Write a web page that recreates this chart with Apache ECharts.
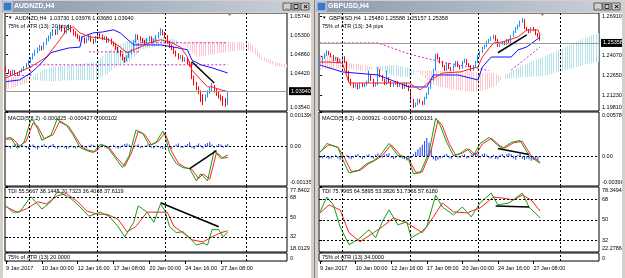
<!DOCTYPE html>
<html>
<head>
<meta charset="UTF-8" />
<title>AUDNZD,H4 / GBPUSD,H4</title>
<style>
html, body { margin: 0; padding: 0; background: #d4d0c8; }
#charts { width: 625px; height: 278px; }
</style>
</head>
<body>
<div id="charts"></div>
<script src="https://cdn.jsdelivr.net/npm/echarts@6/dist/echarts.min.js"></script>
<script>
// bar slots on each chart (data + cloud shifted into the future)
const SLOTS = 126;
const timeLabels = [[0, '9 Jan 2017'], [16, '10 Jan 00:00'], [32, '12 Jan 16:00'], [48, '17 Jan 08:00'], [64, '20 Jan 00:00'], [80, '24 Jan 16:00'], [96, '27 Jan 08:00']];

// ---------------- AUDNZD,H4 ----------------
// [open, close, low, high]
const audCandles = [
  [1.0452,1.0449,1.0445,1.0456],[1.0449,1.0444,1.0440,1.0451],[1.0444,1.0440,1.0436,1.0447],[1.0440,1.0446,1.0438,1.0450],[1.0446,1.0442,1.0439,1.0449],
  [1.0442,1.0439,1.0435,1.0444],[1.0439,1.0445,1.0437,1.0448],[1.0445,1.0450,1.0443,1.0453],[1.0450,1.0454,1.0447,1.0458],[1.0454,1.0462,1.0452,1.0465],
  [1.0462,1.0468,1.0459,1.0472],[1.0468,1.0476,1.0465,1.0479],[1.0476,1.0484,1.0473,1.0488],[1.0484,1.0492,1.0481,1.0496],[1.0492,1.0496,1.0488,1.0501],
  [1.0496,1.0502,1.0493,1.0507],[1.0502,1.0498,1.0494,1.0505],[1.0498,1.0510,1.0496,1.0514],[1.0510,1.0519,1.0507,1.0523],[1.0519,1.0524,1.0515,1.0529],
  [1.0524,1.0532,1.0521,1.0537],[1.0532,1.0539,1.0528,1.0544],[1.0539,1.0534,1.0530,1.0543],[1.0534,1.0546,1.0531,1.0551],[1.0546,1.0549,1.0541,1.0556],
  [1.0549,1.0542,1.0538,1.0553],[1.0542,1.0537,1.0532,1.0546],[1.0537,1.0544,1.0534,1.0549],[1.0544,1.0550,1.0540,1.0555],[1.0550,1.0540,1.0536,1.0553],
  [1.0540,1.0534,1.0529,1.0544],[1.0534,1.0530,1.0526,1.0539],[1.0530,1.0526,1.0521,1.0533],[1.0526,1.0519,1.0515,1.0529],[1.0519,1.0522,1.0514,1.0527],
  [1.0522,1.0514,1.0510,1.0525],[1.0514,1.0520,1.0511,1.0524],[1.0520,1.0526,1.0517,1.0530],[1.0526,1.0518,1.0514,1.0529],[1.0518,1.0514,1.0509,1.0521],
  [1.0514,1.0524,1.0512,1.0528],[1.0524,1.0530,1.0521,1.0535],[1.0530,1.0528,1.0523,1.0534],[1.0528,1.0522,1.0518,1.0531],[1.0522,1.0524,1.0518,1.0528],
  [1.0524,1.0516,1.0512,1.0527],[1.0516,1.0519,1.0512,1.0523],[1.0519,1.0512,1.0508,1.0522],[1.0512,1.0509,1.0504,1.0515],[1.0509,1.0500,1.0496,1.0512],
  [1.0500,1.0492,1.0488,1.0503],[1.0492,1.0484,1.0480,1.0495],[1.0484,1.0476,1.0471,1.0487],[1.0476,1.0472,1.0466,1.0479],[1.0472,1.0480,1.0469,1.0483],
  [1.0480,1.0488,1.0477,1.0492],[1.0488,1.0494,1.0485,1.0498],[1.0494,1.0514,1.0492,1.0518],[1.0514,1.0528,1.0511,1.0532],[1.0528,1.0524,1.0519,1.0531],
  [1.0524,1.0520,1.0516,1.0527],[1.0520,1.0516,1.0511,1.0523],[1.0516,1.0512,1.0508,1.0519],[1.0512,1.0519,1.0510,1.0523],[1.0519,1.0524,1.0516,1.0528],
  [1.0524,1.0514,1.0510,1.0527],[1.0514,1.0518,1.0511,1.0522],[1.0518,1.0526,1.0515,1.0530],[1.0526,1.0532,1.0523,1.0537],[1.0532,1.0540,1.0529,1.0546],
  [1.0540,1.0534,1.0529,1.0543],[1.0534,1.0528,1.0523,1.0537],[1.0528,1.0514,1.0510,1.0530],[1.0514,1.0504,1.0500,1.0517],[1.0504,1.0500,1.0495,1.0508],
  [1.0500,1.0490,1.0486,1.0503],[1.0490,1.0484,1.0480,1.0494],[1.0484,1.0478,1.0473,1.0488],[1.0478,1.0480,1.0474,1.0484],[1.0480,1.0472,1.0468,1.0483],
  [1.0472,1.0474,1.0468,1.0478],[1.0474,1.0466,1.0462,1.0477],[1.0466,1.0462,1.0457,1.0469],[1.0462,1.0432,1.0428,1.0468],[1.0432,1.0418,1.0413,1.0436],
  [1.0418,1.0408,1.0402,1.0421],[1.0408,1.0399,1.0393,1.0411],[1.0399,1.0390,1.0375,1.0402],[1.0390,1.0382,1.0368,1.0393],[1.0382,1.0388,1.0376,1.0392],
  [1.0388,1.0398,1.0385,1.0402],[1.0398,1.0404,1.0394,1.0409],[1.0404,1.0410,1.0400,1.0419],[1.0410,1.0402,1.0397,1.0414],[1.0402,1.0394,1.0389,1.0406],
  [1.0394,1.0388,1.0383,1.0398],[1.0388,1.0384,1.0378,1.0392],[1.0384,1.0380,1.0366,1.0389],[1.0380,1.0373,1.0364,1.0384],[1.0373,1.0394,1.0368,1.03976]
];
const audTenkan = [[0,1.0431],[11,1.0456],[18,1.0479],[24,1.0519],[27,1.0542],[30,1.0549],[33,1.0535],[37,1.0526],[42,1.0523],[46,1.0519],[51,1.0502],[54,1.0489],[57,1.0496],[60,1.0502],[64,1.0512],[69,1.0519],[73,1.0514],[78,1.0502],[81,1.0479],[83,1.0449],[87,1.0426],[90,1.0410],[92,1.0410],[96,1.0403],[99,1.0399]];
const audKijun = [[0,1.0422],[6,1.0426],[11,1.0442],[14,1.0456],[17,1.0472],[20,1.0489],[25,1.0496],[28,1.0500],[33,1.0502],[34,1.0526],[39,1.0535],[43,1.0537],[48,1.0542],[51,1.0535],[57,1.0507],[69,1.0507],[75,1.0502],[81,1.0496],[83,1.0472],[87,1.0461],[92,1.0454],[99,1.0442]];
const audLevelA = [[0,1.0436],[11,1.0436],[11,1.0461],[99,1.0461]];
const audLevelB = [[37,1.0491],[59,1.0491],[59,1.0512],[99,1.0512]];
// [bar, senkou A, senkou B]
const audCloud = [[0,1.0403,1.0433],[10,1.0420,1.0430],[13,1.0440,1.0426],[20,1.0456,1.0422],[30,1.0461,1.0426],[40,1.0468,1.0426],[45,1.0490,1.0440],[50,1.0507,1.0461],[55,1.0519,1.0468],[60,1.0523,1.0496],[70,1.0525,1.0507],[76,1.0519,1.0509],[80,1.0505,1.0512],[85,1.0479,1.0514],[95,1.0488,1.0514],[105,1.0496,1.0514],[109,1.0494,1.0512],[114,1.0472,1.0480],[120,1.0459,1.0468],[125,1.0454,1.0462]];
const audTrendPrice = [[83,1.0468],[93,1.0419]];
const audMacdMain = [[0,0.00032],[2,0.00036],[5,-0.00008],[8,0.00016],[11,0.00103],[12,0.00103],[14,0.00071],[16,0.00024],[20,0.00044],[23,0.00111],[24,0.00095],[27,0.00083],[30,0.00044],[33,-0.00004],[36,-0.00016],[39,-0.00024],[42,0.00008],[45,0],[48,-0.00036],[52,-0.00083],[55,-0.00036],[58,0.00064],[61,0.00052],[64,0.00004],[67,0.00016],[70,0.00060],[71,0.00044],[73,-0.00024],[76,-0.00067],[79,-0.00083],[82,-0.00087],[85,-0.00135],[87,-0.00107],[90,-0.00135],[93,-0.00016],[96,-0.00048],[99,-0.00033]];
const audMacdSignal = [[0,0.00028],[3,0.00030],[6,0.00002],[9,0.00020],[12,0.00092],[14,0.00080],[17,0.00030],[21,0.00046],[24,0.00100],[28,0.00078],[31,0.00038],[34,-0.00004],[37,-0.00016],[40,-0.00020],[43,0.00006],[46,-0.00004],[49,-0.00040],[53,-0.00078],[56,-0.00026],[59,0.00058],[62,0.00046],[65,0.00006],[68,0.00020],[71,0.00054],[74,-0.00020],[77,-0.00066],[80,-0.00082],[83,-0.00090],[86,-0.00126],[88,-0.00108],[91,-0.00128],[94,-0.00024],[97,-0.00046],[99,-0.00043]];
const audMacdHist = [
  0.00005,-0.00003,-0.00008,0.00004,0.00010,0.00012,-0.00004,0.00006,0.00003,-0.00006,
  -0.00010,0.00004,0.00008,-0.00006,-0.00012,-0.00004,0.00005,0.00009,-0.00003,-0.00008,
  0.00006,0.00010,-0.00005,-0.00009,-0.00004,0.00003,-0.00006,-0.00010,-0.00007,0.00004,
  -0.00005,-0.00008,-0.00004,0.00003,0.00006,-0.00004,-0.00007,0.00004,0.00008,0.00005,
  -0.00003,-0.00006,0.00004,0.00007,-0.00004,-0.00008,-0.00005,0.00003,0.00006,-0.00004,
  -0.00009,-0.00006,0.00005,0.00010,0.00012,0.00008,-0.00004,-0.00008,0.00005,0.00009,
  -0.00006,-0.00004,0.00003,0.00007,0.00010,-0.00005,-0.00008,0.00004,-0.00003,-0.00007,
  -0.00010,-0.00006,0.00004,-0.00005,-0.00009,0.00003,0.00008,0.00012,-0.00004,-0.00006,
  0.00005,0.00010,0.00016,-0.00006,-0.00010,0.00005,0.00012,0.00006,-0.00008,0.00010,
  0.00014,0.00018,0.00008,-0.00006,0.00004,0.00010,0.00008,-0.00005,0.00006,0.00010
];
const audTrendMacd = [[82,-0.00087],[94,-0.00016]];
const audTdiPrice = [[0,60.4],[3,54.7],[6,54.7],[11,68.9],[14,62.3],[16,57.6],[20,64.2],[23,73.7],[25,71.8],[29,67.1],[33,59.5],[37,50.9],[42,54.7],[46,50.9],[50,41.5],[53,32.0],[57,45.3],[59,60.4],[61,57.6],[63,54.7],[66,45.3],[69,62.3],[71,55.7],[73,41.5],[76,35.8],[79,36.7],[82,31.1],[85,24.4],[88,26.3],[90,24.4],[92,38.6],[95,38.6],[97,32.0],[99,36.4]];
const audTdiSignal = [[0,59.5],[5,54.7],[9,57.6],[14,64.2],[18,62.3],[23,69.9],[27,71.8],[32,64.2],[36,55.7],[41,52.8],[45,52.8],[50,48.1],[54,36.7],[58,41.5],[63,54.7],[67,54.7],[72,54.7],[75,41.5],[79,35.8],[83,29.2],[88,27.3],[92,32.0],[96,35.8],[99,37.6]];
const audTrendTdi = [[69,63.3],[95,41.2]];
const audSeparators = [10.5, 40.5, 71, 107.5];
const audClose = 1.0394;
const audPriceTicks = [[1.0574,'1.05740'],[1.0530,'1.05300'],[1.0486,'1.04860'],[1.0442,'1.04420'],[1.0354,'1.03540']];
const audMacdTicks = [[0.00135,'0.001396'],[0,'0.00'],[-0.00155,'-0.001356']];
const audTdiTicks = [[77.8402,'77.8402'],[68,'68'],[50,'50'],[32,'32'],[18.0129,'18.0129']];

// ---------------- GBPUSD,H4 ----------------
const gbpCandles = [
  [1.2340,1.2355,1.2330,1.2368],[1.2355,1.2391,1.2350,1.2402],[1.2391,1.2413,1.2384,1.2425],[1.2413,1.2434,1.2405,1.2448],[1.2434,1.2420,1.2410,1.2442],
  [1.2420,1.2406,1.2396,1.2428],[1.2406,1.2377,1.2368,1.2412],[1.2377,1.2391,1.2370,1.2400],[1.2391,1.2362,1.2352,1.2396],[1.2362,1.2377,1.2355,1.2386],
  [1.2377,1.2398,1.2370,1.2410],[1.2398,1.2362,1.2354,1.2404],[1.2362,1.2290,1.2280,1.2368],[1.2290,1.2232,1.2220,1.2298],[1.2232,1.2203,1.2190,1.2240],
  [1.2203,1.2188,1.2175,1.2212],[1.2188,1.2196,1.2178,1.2206],[1.2196,1.2174,1.2164,1.2204],[1.2174,1.2203,1.2168,1.2212],[1.2203,1.2188,1.2180,1.2210],
  [1.2188,1.2196,1.2180,1.2205],[1.2196,1.2217,1.2190,1.2226],[1.2217,1.2261,1.2210,1.2300],[1.2261,1.2232,1.2224,1.2268],[1.2232,1.2188,1.2180,1.2240],
  [1.2188,1.2203,1.2182,1.2212],[1.2203,1.2304,1.2196,1.2325],[1.2304,1.2261,1.2252,1.2310],[1.2261,1.2232,1.2225,1.2268],[1.2232,1.2203,1.2195,1.2240],
  [1.2203,1.2246,1.2198,1.2300],[1.2246,1.2217,1.2210,1.2252],[1.2217,1.2188,1.2180,1.2224],[1.2188,1.2203,1.2182,1.2212],[1.2203,1.2217,1.2196,1.2226],
  [1.2217,1.2188,1.2180,1.2224],[1.2188,1.2203,1.2182,1.2210],[1.2203,1.2174,1.2166,1.2208],[1.2174,1.2203,1.2168,1.2212],[1.2203,1.2188,1.2180,1.2210],
  [1.2188,1.2159,1.2150,1.2194],[1.2159,1.2087,1.2078,1.2164],[1.2087,1.2044,1.2030,1.2094],[1.2044,1.2058,1.2036,1.2068],[1.2058,1.2087,1.2050,1.2096],
  [1.2087,1.2072,1.2062,1.2094],[1.2072,1.2058,1.2048,1.2080],[1.2058,1.2101,1.2052,1.2110],[1.2101,1.2130,1.2094,1.2140],[1.2130,1.2174,1.2124,1.2182],
  [1.2174,1.2232,1.2168,1.2240],[1.2232,1.2304,1.2226,1.2312],[1.2304,1.2406,1.2298,1.2420],[1.2406,1.2391,1.2380,1.2424],[1.2391,1.2362,1.2352,1.2398],
  [1.2362,1.2333,1.2324,1.2370],[1.2333,1.2304,1.2296,1.2340],[1.2304,1.2348,1.2298,1.2356],[1.2348,1.2319,1.2310,1.2354],[1.2319,1.2304,1.2296,1.2326],
  [1.2304,1.2333,1.2298,1.2340],[1.2333,1.2362,1.2326,1.2370],[1.2362,1.2333,1.2324,1.2368],[1.2333,1.2319,1.2310,1.2340],[1.2319,1.2362,1.2312,1.2370],
  [1.2362,1.2377,1.2354,1.2386],[1.2377,1.2348,1.2340,1.2384],[1.2348,1.2333,1.2324,1.2354],[1.2333,1.2304,1.2296,1.2340],[1.2304,1.2333,1.2298,1.2340],
  [1.2333,1.2362,1.2326,1.2370],[1.2362,1.2406,1.2356,1.2414],[1.2406,1.2434,1.2398,1.2442],[1.2434,1.2463,1.2428,1.2472],[1.2463,1.2478,1.2456,1.2488],
  [1.2478,1.2507,1.2470,1.2516],[1.2507,1.2521,1.2500,1.2530],[1.2521,1.2536,1.2514,1.2546],[1.2536,1.2550,1.2528,1.2560],[1.2550,1.2521,1.2512,1.2556],
  [1.2521,1.2478,1.2470,1.2528],[1.2478,1.2492,1.2470,1.2500],[1.2492,1.2507,1.2486,1.2514],[1.2507,1.2492,1.2484,1.2514],[1.2492,1.2521,1.2486,1.2530],
  [1.2521,1.2507,1.2498,1.2528],[1.2507,1.2550,1.2500,1.2558],[1.2550,1.2579,1.2544,1.2588],[1.2579,1.2608,1.2572,1.2616],[1.2608,1.2623,1.2600,1.2634],
  [1.2623,1.2652,1.2616,1.2662],[1.2652,1.2666,1.2644,1.2680],[1.2666,1.2608,1.2600,1.2672],[1.2608,1.2594,1.2586,1.2616],[1.2594,1.2579,1.2570,1.2602],
  [1.2579,1.2608,1.2572,1.2616],[1.2608,1.2594,1.2586,1.2616],[1.2594,1.2565,1.2556,1.2600],[1.2565,1.2548,1.2540,1.2572],[1.2548,1.25358,1.25157,1.25588]
];
const gbpTenkan = [[0,1.2362],[4,1.2362],[10,1.2355],[13,1.2210],[27,1.2210],[40,1.2210],[45,1.2160],[50,1.2232],[55,1.2282],[63,1.2290],[71,1.2326],[73,1.2398],[78,1.2500],[82,1.2507],[89,1.2543],[93,1.2594],[98,1.2594],[99,1.2557]];
const gbpKijun = [[0,1.2340],[10,1.2290],[26,1.2268],[40,1.2181],[48,1.2181],[51,1.2268],[62,1.2268],[71,1.2232],[73,1.2326],[77,1.2398],[86,1.2398],[89,1.2449],[93,1.2471],[99,1.2543]];
const gbpLevelA = [[0,1.2500],[26,1.2500],[40,1.2420],[55,1.2360],[70,1.2320],[76,1.2300]];
const gbpLevelB = [[86,1.2304],[92,1.2380],[99,1.2471]];
const gbpCloud = [[0,1.2304,1.2413],[8,1.2319,1.2400],[12,1.2319,1.2355],[20,1.2290,1.2340],[26,1.2330,1.2310],[33,1.2340,1.2260],[40,1.2320,1.2250],[44,1.2290,1.2300],[50,1.2200,1.2300],[60,1.2160,1.2300],[70,1.2145,1.2290],[78,1.2181,1.2280],[83,1.2268,1.2240],[90,1.2330,1.2250],[100,1.2400,1.2260],[110,1.2470,1.2300],[118,1.2530,1.2340],[125,1.2572,1.2362]];
const gbpTrendPrice = [[80,1.2429],[93,1.2558]];
const gbpMacdMain = [[0,0.00048],[3,0.00167],[8,0.00114],[10,-0.00032],[13,-0.00218],[17,-0.00191],[21,-0.00098],[24,-0.00058],[27,0.00008],[31,0.00167],[35,0.00008],[39,-0.00019],[40,-0.00058],[42,-0.00231],[45,-0.00218],[49,0.00048],[52,0.00499],[54,0.00406],[57,0.00180],[60,0.00008],[63,0.00035],[66,0.00101],[69,0.00008],[72,0.00167],[76,0.00247],[80,0.00141],[82,0.00101],[86,0.00180],[90,0.00207],[94,0.00008],[99,-0.00092]];
const gbpMacdSignal = [[0,0.00060],[4,0.00150],[8,0.00120],[11,-0.00020],[14,-0.00200],[18,-0.00185],[22,-0.00095],[25,-0.00050],[28,0.00010],[32,0.00150],[36,0.00015],[40,-0.00040],[43,-0.00210],[46,-0.00205],[50,0.00080],[53,0.00470],[55,0.00400],[58,0.00170],[61,0.00015],[64,0.00040],[67,0.00095],[70,0.00015],[73,0.00160],[77,0.00235],[81,0.00135],[83,0.00105],[87,0.00175],[91,0.00195],[95,0.00005],[99,-0.00079]];
const gbpMacdHist = [
  -0.00020,-0.00030,0.00015,-0.00025,-0.00040,-0.00030,-0.00015,0.00020,-0.00030,-0.00045,
  -0.00035,-0.00020,0.00015,-0.00030,-0.00040,-0.00025,0.00020,0.00030,-0.00020,-0.00035,
  -0.00025,0.00015,0.00025,-0.00020,-0.00030,0.00020,0.00035,-0.00015,-0.00025,0.00020,
  0.00030,0.00040,-0.00020,-0.00035,-0.00025,0.00015,-0.00020,-0.00030,-0.00040,-0.00055,
  -0.00035,-0.00025,0.00030,0.00060,0.00090,0.00120,0.00150,0.00200,0.00240,0.00180,
  0.00090,-0.00040,-0.00060,-0.00045,-0.00030,-0.00020,0.00020,0.00030,-0.00025,-0.00035,
  0.00020,0.00030,-0.00020,-0.00025,0.00015,0.00025,-0.00030,-0.00020,0.00020,0.00035,
  0.00045,0.00030,-0.00020,0.00025,0.00035,0.00020,-0.00025,-0.00030,0.00020,-0.00035,
  -0.00040,0.00020,0.00030,-0.00025,0.00030,0.00040,0.00025,-0.00030,-0.00045,0.00020,
  0.00030,-0.00035,-0.00050,-0.00030,-0.00040,-0.00060,-0.00045,-0.00035,-0.00050,-0.00013
];
const gbpTrendMacd = [[80,0.00101],[94,0.00021]];
const gbpTdiPrice = [[0,56.9],[3,69.7],[6,62.9],[9,44.0],[13,28.6],[17,32.9],[22,41.4],[25,34.6],[28,48.3],[31,58.6],[35,45.7],[39,48.3],[41,34.6],[45,38.9],[48,44.0],[52,71.4],[55,61.1],[60,54.3],[64,61.1],[68,52.6],[72,64.6],[77,73.1],[80,62.9],[85,64.6],[91,73.1],[94,61.1],[99,51.7]];
const gbpTdiSignal = [[0,56.0],[4,62.9],[9,58.6],[13,38.9],[18,31.1],[24,38.9],[28,44.0],[33,51.7],[39,47.4],[46,38.9],[51,52.6],[55,64.6],[60,56.9],[66,56.0],[72,60.3],[78,69.7],[82,68.9],[87,67.1],[91,71.4],[95,67.1],[99,57.6]];
const gbpTrendTdi = [[79,62.0],[94,61.1]];
const gbpSeparators = [10, 40.5, 71, 108];
const gbpClose = 1.25358;
const gbpPriceTicks = [[1.2691,'1.26910'],[1.2407,'1.24070'],[1.2265,'1.22650'],[1.2123,'1.21230'],[1.2007,'1.19810']];
const gbpMacdTicks = [[0.005789,'0.005789'],[0,'0.00'],[-0.0039,'-0.003900']];
const gbpTdiTicks = [[78.3494,'78.3494'],[68,'68'],[50,'50'],[32,'32'],[22.2786,'22.2786']];

const tdiLevels = [68, 50, 32];

// ---------------- layout / style ----------------
const FONT = 'Liberation Sans, Arial, DejaVu Sans, sans-serif';
const FS = 5.5;
const BULL = '#1e90ff', BEAR = '#ff0000';
const CLOUD_UP = '#b4e2e8', CLOUD_DN = '#ffc4ce';
const panes = [
  { top: 13, height: 98 },   // price
  { top: 112, height: 74 },  // MACD
  { top: 187, height: 65 },  // TDI
  { top: 253, height: 8 }    // ATR strip
];

const sides = [
  {
    left: 5, width: 282,
    candles: audCandles, tenkan: audTenkan, kijun: audKijun, levelA: audLevelA, levelB: audLevelB,
    cloud: audCloud, trendPrice: audTrendPrice, macdMain: audMacdMain, macdSignal: audMacdSignal,
    macdHist: audMacdHist, trendMacd: audTrendMacd, tdiPrice: audTdiPrice, tdiSignal: audTdiSignal,
    trendTdi: audTrendTdi, seps: audSeparators, close: audClose,
    ranges: [[1.0354, 1.0581], [-0.00155, 0.00135], [18.0129, 77.8402], [0, 1]],
    ticks: [audPriceTicks, audMacdTicks, audTdiTicks, [[0, '0']]], closeText: '1.03940'
  },
  {
    left: 319, width: 280,
    candles: gbpCandles, tenkan: gbpTenkan, kijun: gbpKijun, levelA: gbpLevelA, levelB: gbpLevelB,
    cloud: gbpCloud, trendPrice: gbpTrendPrice, macdMain: gbpMacdMain, macdSignal: gbpMacdSignal,
    macdHist: gbpMacdHist, trendMacd: gbpTrendMacd, tdiPrice: gbpTdiPrice, tdiSignal: gbpTdiSignal,
    trendTdi: gbpTrendTdi, seps: gbpSeparators, close: gbpClose,
    ranges: [[1.2007, 1.2717], [-0.0039, 0.005789], [22.2786, 78.3494], [0, 1]],
    ticks: [gbpPriceTicks, gbpMacdTicks, gbpTdiTicks, [[0, '0']]], closeText: '1.25358'
  }
];

const slotCats = Array.from({ length: SLOTS }, (_, i) => String(i));
const timeMap = new Map(timeLabels);

function cloudHatch(params, api) {
  const i0 = api.value(0), a0 = api.value(1), b0 = api.value(2);
  const i1 = api.value(3), a1 = api.value(4), b1 = api.value(5);
  const kids = [];
  for (let k = params.dataIndex === 0 ? i0 : i0 + 1; k <= i1; k++) {
    const t = (k - i0) / (i1 - i0);
    const a = a0 + (a1 - a0) * t, b = b0 + (b1 - b0) * t;
    const p = api.coord([k, a]), q = api.coord([k, b]);
    const x = Math.round(p[0]) + 0.5;
    kids.push({ type: 'line', shape: { x1: x, y1: p[1], x2: x, y2: q[1] },
      style: { stroke: a >= b ? CLOUD_UP : CLOUD_DN, lineWidth: 1 } });
  }
  return { type: 'group', children: kids };
}

function yLabel(ticks, min, max, alignBottom) {
  return {
    customValues: ticks.map(t => t[0]),
    fontSize: FS, fontFamily: FONT, color: '#000', margin: 3,
    verticalAlign: alignBottom ? 'bottom' : 'middle',
    formatter: function (v) {
      const hit = ticks.find(t => Math.abs(t[0] - v) < 1e-9);
      const s = hit ? hit[1] : '';
      if (alignBottom) return s;
      if (Math.abs(v - max) < 1e-9) return '{t|' + s + '}';
      if (Math.abs(v - min) < 1e-9) return '{b|' + s + '}';
      return s;
    },
    rich: {
      t: { fontSize: FS, fontFamily: FONT, color: '#000', padding: [7, 0, 0, 0] },
      b: { fontSize: FS, fontFamily: FONT, color: '#000', padding: [0, 0, 7, 0] }
    }
  };
}

const grid = [], xAxis = [], yAxis = [], series = [];
const dotted = { color: '#000', width: 1, type: [2, 2] };

function vLine(values) {
  return values.map(v => ({ xAxis: v }));
}

sides.forEach((s, si) => {
  panes.forEach((p, pi) => {
    const g = si * 4 + pi;
    grid.push({ left: s.left, width: s.width, top: p.top, height: p.height, show: true,
      backgroundColor: 'transparent', borderColor: '#000', borderWidth: 1,
      containLabel: false, outerBoundsMode: 'none' });
    const bottomAxis = pi === 3;
    xAxis.push({
      gridIndex: g, type: 'category', data: slotCats, boundaryGap: true,
      axisLine: { show: false }, splitLine: { show: false },
      axisTick: bottomAxis ? { show: true, interval: (i) => timeMap.has(i), alignWithLabel: true, length: 3, lineStyle: { color: '#000' } } : { show: false },
      axisLabel: bottomAxis ? {
        show: true, interval: (i) => timeMap.has(i), formatter: (v, i) => timeMap.get(Number(v)) || '',
        align: 'left', fontSize: FS, fontFamily: FONT, color: '#000', margin: 4
      } : { show: false }
    });
    xAxis.push({ gridIndex: g, type: 'value', min: -0.5, max: SLOTS - 0.5, show: false });
    const r = s.ranges[pi];
    yAxis.push({
      gridIndex: g, type: 'value', position: 'right', min: r[0], max: r[1],
      splitLine: { show: false }, axisLine: { show: false },
      axisTick: { show: true, length: 2, customValues: s.ticks[pi].map(t => t[0]), lineStyle: { color: '#000' } },
      axisLabel: yLabel(s.ticks[pi], r[0], r[1], pi === 3)
    });
  });

  const base = si * 4;
  const cat = (pi) => (base + pi) * 2;
  const val = (pi) => (base + pi) * 2 + 1;
  const line = (pi, data, color, extra) => Object.assign({
    type: 'line', xAxisIndex: val(pi), yAxisIndex: base + pi, data, showSymbol: false,
    symbol: 'none', lineStyle: { color, width: 1 }, silent: true, z: 4
  }, extra || {});

  // price pane
  series.push({
    type: 'custom', xAxisIndex: val(0), yAxisIndex: base, renderItem: cloudHatch, silent: true, z: 1,
    encode: { x: [0, 3], y: [1, 2, 4, 5] },
    data: s.cloud.slice(1).map((c, n) => [s.cloud[n][0], s.cloud[n][1], s.cloud[n][2], c[0], c[1], c[2]])
  });
  series.push({
    type: 'candlestick', xAxisIndex: cat(0), yAxisIndex: base, data: s.candles, barWidth: 1, z: 3, silent: true,
    itemStyle: { color: BULL, color0: BEAR, borderColor: BULL, borderColor0: BEAR, borderWidth: 1 },
    markLine: {
      symbol: ['none', 'none'], silent: true, animation: false,
      lineStyle: { color: '#9a9a9a', width: 1, type: 'solid' },
      label: { show: true, position: 'end', distance: 2, formatter: s.closeText, color: '#fff',
        backgroundColor: '#000', padding: [1, 2, 1, 2], fontSize: FS, fontFamily: FONT },
      data: [{ yAxis: s.close }]
    }
  });
  series.push(line(0, s.levelA, '#d020d0', { lineStyle: { color: '#d020d0', width: 1, type: [2, 2] }, z: 2 }));
  series.push(line(0, s.levelB, '#d020d0', { lineStyle: { color: '#d020d0', width: 1, type: [2, 2] }, z: 2 }));
  series.push(line(0, s.kijun, '#1010ff'));
  series.push(line(0, s.tenkan, '#ff2020', {
    markLine: { symbol: ['none', 'none'], silent: true, animation: false, label: { show: false },
      lineStyle: dotted, data: vLine(s.seps) }
  }));
  series.push(line(0, s.trendPrice, '#000', { lineStyle: { color: '#000', width: 1.5 }, z: 6 }));

  // MACD pane
  series.push({ type: 'bar', xAxisIndex: cat(1), yAxisIndex: base + 1, data: s.macdHist, barWidth: 1,
    itemStyle: { color: '#2040ff' }, silent: true, z: 2 });
  series.push(line(1, s.macdSignal, '#ff2020'));
  series.push(line(1, s.macdMain, '#14a014', {
    markLine: { symbol: ['none', 'none'], silent: true, animation: false, label: { show: false },
      lineStyle: dotted, data: vLine(s.seps).concat([{ yAxis: 0 }]) }
  }));
  series.push(line(1, s.trendMacd, '#000', { lineStyle: { color: '#000', width: 1.5 }, z: 6 }));

  // TDI pane
  series.push(line(2, s.tdiSignal, '#ff2020'));
  series.push(line(2, s.tdiPrice, '#14a014', {
    markLine: { symbol: ['none', 'none'], silent: true, animation: false, label: { show: false },
      lineStyle: dotted, data: vLine(s.seps).concat(tdiLevels.map(v => ({ yAxis: v }))) }
  }));
  series.push(line(2, s.trendTdi, '#000', { lineStyle: { color: '#000', width: 1.5 }, z: 6 }));

  // ATR strip: only the period separators
  series.push(line(3, [[0, 0.5]], 'rgba(0,0,0,0)', {
    markLine: { symbol: ['none', 'none'], silent: true, animation: false, label: { show: false },
      lineStyle: dotted, data: vLine(s.seps) }
  }));
});

// ---------------- window chrome and pane captions ----------------
function txt(x, y, s, extra) {
  return { type: 'text', x, y, silent: true, z: 60,
    style: Object.assign({ text: s, fill: '#000', fontSize: FS, fontFamily: FONT, verticalAlign: 'middle', align: 'left' }, extra || {}) };
}
function rect(x, y, w, h, fill, extra) {
  return Object.assign({ type: 'rect', shape: { x, y, width: w, height: h }, style: { fill }, silent: true, z: 50 }, extra || {});
}
function titleBar(x, w, label) {
  const bar = rect(x, 1, w, 11, new echarts.graphic.LinearGradient(0, 0, 1, 0,
    [{ offset: 0, color: '#8c98ac' }, { offset: 1, color: '#ccd2dc' }]));
  const icon = rect(x + 1, 2, 9, 9, '#3a78c8', { style: { fill: '#3a78c8', stroke: '#dbe6f5', lineWidth: 1 } });
  const bx = x + w - 28;
  const btns = [0, 9, 18].map(o => rect(bx + o, 3, 8, 7, '#d4d0c8', { style: { fill: '#d4d0c8', stroke: '#404040', lineWidth: 0.8 }, z: 55 }));
  return [bar, icon].concat(btns, [
    txt(x + 12, 6.5, label, { fill: '#fff', fontSize: 7, fontWeight: 'bold' }),
    txt(bx + 2.2, 6, '_', { fontSize: 6, fontWeight: 'bold' }),
    rect(bx + 11, 4.5, 4, 4, 'none', { style: { fill: 'none', stroke: '#000', lineWidth: 0.8 }, z: 61 }),
    txt(bx + 20.2, 6.8, '×', { fontSize: 8, fontWeight: 'bold' })
  ]);
}

const graphics = [].concat(
  // frame pieces
  rect(0, 0, 625, 13, '#d4d0c8'),
  rect(0, 0, 3, 278, '#d4d0c8'),
  rect(311, 0, 7, 278, '#d4d0c8'),
  rect(314, 0, 1, 278, '#808080'),
  rect(622, 0, 3, 278, '#d4d0c8'),
  titleBar(2, 309, 'AUDNZD,H4'),
  titleBar(316, 306, 'GBPUSD,H4'),
  // chart shift markers
  { type: 'polygon', shape: { points: [[227, 13], [232, 13], [229.5, 16]] }, style: { fill: '#808080' }, silent: true, z: 40 },
  { type: 'polygon', shape: { points: [[540, 13], [545, 13], [542.5, 16]] }, style: { fill: '#808080' }, silent: true, z: 40 },
  // left captions
  txt(8, 18, '▼', { fontSize: 4.5 }),
  txt(15, 18, 'AUDNZD,H4  1.03730 1.03976 1.03680 1.03940'),
  txt(8, 26, '75% of ATR (13): 20 pips'),
  txt(8, 118, 'MACD(5,8,2) -0.000325 -0.000427 0.000102'),
  txt(8, 191, 'TDI 55.5667 38.1445 20.7323 36.4038 37.6119'),
  txt(8, 257.5, '75% of ATR (13) 20.0000'),
  // right captions
  txt(322, 18, '▼', { fontSize: 4.5 }),
  txt(329, 18, 'GBPUSD,H4  1.25480 1.25588 1.25157 1.25358'),
  txt(322, 26, '75% of ATR (13): 34 pips'),
  txt(322, 118, 'MACD(5,8,2) -0.000921 -0.000790 -0.000131'),
  txt(322, 191, 'TDI 75.7965 64.5895 53.3826 51.7366 57.6180'),
  txt(322, 257.5, '75% of ATR (13) 34.0000')
);

const chart = echarts.init(document.getElementById('charts'), null, { renderer: 'canvas' });
chart.setOption({
  animation: false,
  backgroundColor: '#ffffff',
  grid, xAxis, yAxis, series,
  graphic: { elements: graphics }
});
</script>
</body>
</html>
